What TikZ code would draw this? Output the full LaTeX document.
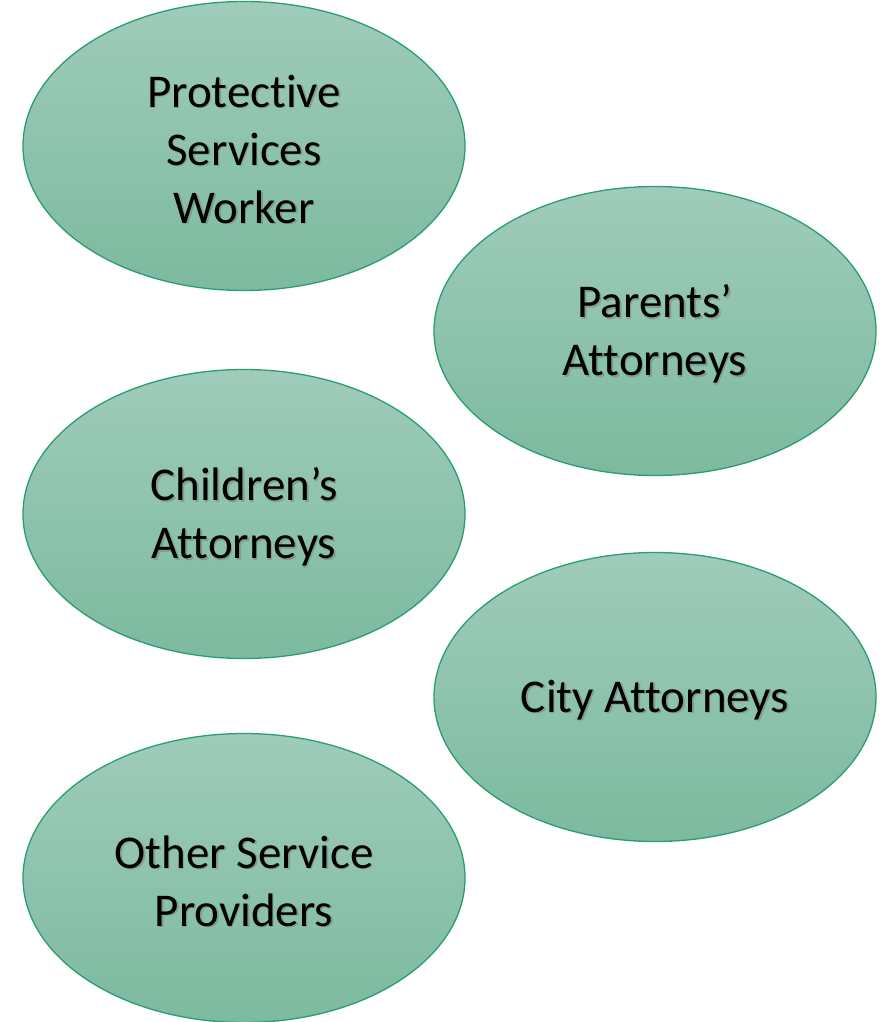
\documentclass[tikz,border=0pt]{standalone}
\usepackage{fontspec}
\setmainfont[Ligatures=NoCommon]{Carlito}
\usetikzlibrary{shapes.geometric}
\definecolor{topg}{HTML}{9FCCBA}
\definecolor{botg}{HTML}{7CBA9F}
\definecolor{edgeg}{HTML}{2A9C76}
\tikzset{
  bubble/.style={ellipse, draw=edgeg, line width=1.3pt, top color=topg, bottom color=botg,
    minimum width=442pt, minimum height=289pt, inner sep=0pt},
  txt/.style={align=center, font=\fontsize{47}{58}\selectfont, text=black},
  shtxt/.style={txt, text=black!55, opacity=0.45}
}
\newcommand{\bubtext}[2]{%
  \node[shtxt] at ([shift={(1.6pt,-4.6pt)}]#1.center) {#2};
  \node[txt] at ([shift={(0pt,-3pt)}]#1.center) {#2};}
\begin{document}
\begin{tikzpicture}[x=1pt,y=-1pt]
\useasboundingbox (0,0) rectangle (882,1022);
\node[bubble] (pws) at (244,146) {};
\node[bubble] (par) at (655,331) {};
\node[bubble] (chi) at (244,514) {};
\node[bubble] (city) at (655,697) {};
\node[bubble] (oth) at (244,878) {};
\bubtext{pws}{Protective\\Services\\Worker}
\bubtext{par}{Parents’\\Attorneys}
\bubtext{chi}{Children’s\\Attorneys}
\bubtext{city}{City Attorneys}
\bubtext{oth}{Other Service\\Providers}
\end{tikzpicture}
\end{document}
